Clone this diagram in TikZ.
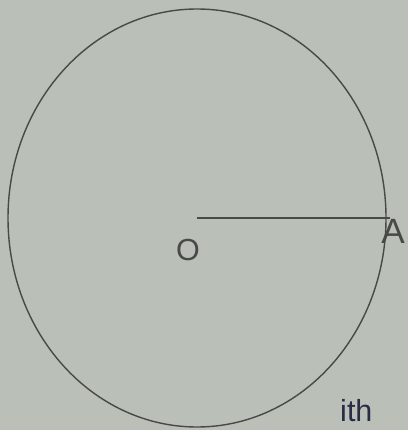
\documentclass[tikz,border=0pt]{standalone}
\usepackage{fontspec}
\setmainfont{Liberation Sans}
\definecolor{paper}{RGB}{186,191,184}
\definecolor{pencil}{RGB}{72,74,72}
\definecolor{ink}{RGB}{40,44,70}
\begin{document}
\begin{tikzpicture}[x=0.03cm,y=-0.03cm,
  stroke/.style={draw=pencil,line width=1.2pt},
  lbl/.style={text=pencil,font=\fontsize{26}{28}\selectfont,inner sep=0pt}]
\fill[paper] (0,0) rectangle (408,430);
\useasboundingbox (0,0) rectangle (408,430);
\coordinate (O) at (197,218);
\coordinate (Aend) at (390,218);
\draw[stroke] (O) ellipse [x radius=189, y radius=209];
\draw[stroke,line width=1.5pt] (O) -- (Aend);
\node[lbl] (olabel) at (188,250) {O};
\node[lbl,font=\fontsize{30}{32}\selectfont] (alabel) at (393,231) {A};
\node[lbl,text=ink,anchor=south west,font=\fontsize{26}{28}\selectfont] (tail) at (340,422) {ith};
\end{tikzpicture}
\end{document}
